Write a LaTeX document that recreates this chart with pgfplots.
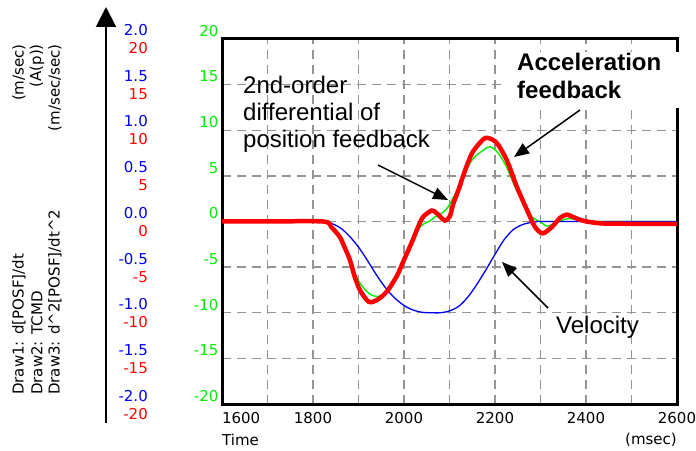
\documentclass[border=0pt]{standalone}
\usepackage{pgfplots}
\pgfplotsset{compat=1.18}
\usepackage{fontspec}
\setmainfont{Liberation Sans}
\newfontfamily\djfont{DejaVu Sans}
\usetikzlibrary{arrows.meta}
\newcommand\tk{\djfont\fontsize{15}{18}\selectfont}
\definecolor{vgreen}{RGB}{0,240,0}
\definecolor{vblue}{RGB}{0,0,240}
\definecolor{vred}{RGB}{255,0,0}

\begin{document}
\begin{tikzpicture}[x=1pt,y=1pt]
\useasboundingbox (0,0) rectangle (696,450);

\begin{axis}[
    at={(222pt,46pt)}, anchor=south west,
    scale only axis, width=455pt, height=365pt,
    xmin=1600, xmax=2600, ymin=-20, ymax=20,
    xtick={1600,1700,...,2600},
    xticklabels={\rlap{1600},,1800,,2000,,2200,,2400,,2600},
    ytick={-20,-15,...,20},
    yticklabels={-20,-15,-10,-5,0,5,10,15,20},
    tick style={draw=none},
    xticklabel style={font=\tk, black, yshift=-5pt},
    yticklabel style={font=\tk, vgreen, yshift=8pt},
    grid=major,
    major grid style={dash pattern=on 9pt off 6pt, line width=1.4pt, black!42},
    axis line style={line width=3pt},
    /pgf/number format/assume math mode=true,
]
% Draw3: measured 2nd-order differential (green)
\addplot[vgreen, line width=1.4pt, smooth, tension=0.5] coordinates {
(1600,0) (1700,0.1) (1800,0) (1822,0) (1835,-0.4) (1853,-1.3) (1868,-2.8) (1881,-4.4)
(1899,-6.4) (1915,-7.5) (1930,-8.1) (1945,-8.2) (1957,-7.8) (1969,-7.2) (1980,-6.4)
(1991,-5.3) (2000,-4.3) (2013,-2.8) (2022,-1.8) (2031,-0.9) (2042,-0.3) (2055,0)
(2068,0.5) (2080,0.8) (2094,1.4) (2108,2.6) (2120,3.8) (2130,5.0) (2152,6.9)
(2174,7.8) (2189,8.2) (2207,7.5) (2226,5.9) (2244,3.8) (2262,2.0) (2281,0.5)
(2299,0) (2314,-0.5) (2332,-0.2) (2358,0.3) (2380,0.2) (2400,0) (2500,0) (2600,0)
};
% Draw1: velocity (blue)
\addplot[vblue, line width=1.3pt, smooth, tension=0.5] coordinates {
(1600,0) (1700,0) (1820,0) (1840,-0.2) (1860,-0.7) (1880,-1.6) (1900,-2.8) (1920,-4.3)
(1940,-5.9) (1960,-7.3) (1980,-8.4) (2000,-9.2) (2020,-9.7) (2040,-9.95) (2060,-10)
(2080,-10) (2100,-9.8) (2120,-9.3) (2140,-8.3) (2160,-6.9) (2180,-5.3) (2200,-3.6)
(2220,-2.0) (2240,-0.9) (2260,-0.35) (2280,-0.1) (2300,0) (2400,0) (2500,0) (2600,0)
};
% Draw2: acceleration feedback (red)
\addplot[vred, line width=4.5pt, smooth, tension=0.5] coordinates {
(1600,0) (1700,0) (1822,0) (1840,-0.6) (1859,-1.7) (1870,-2.9) (1881,-4.2) (1892,-6.1)
(1903,-7.5) (1918,-8.6) (1928,-8.85) (1947,-8.4) (1965,-7.5) (1985,-5.9) (2000,-4.2)
(2017,-2.3) (2031,-0.6) (2042,0.5) (2061,1.2) (2072,0.9) (2090,0.1) (2101,0.6)
(2108,1.9) (2120,3.5) (2130,5.0) (2141,6.5) (2152,7.7) (2174,9.0) (2185,9.15)
(2204,8.6) (2226,6.7) (2248,3.8) (2270,1.3) (2288,-0.6) (2305,-1.3) (2325,-0.6)
(2343,0.4) (2358,0.75) (2371,0.5) (2393,0.1) (2431,-0.2) (2500,-0.25) (2600,-0.25)
};
\end{axis}

% white box behind the upper label
\fill[white] (505,342) rectangle (690,398);

% annotations
\node[anchor=north west, inner sep=0, align=left, font=\fontsize{24}{27}\selectfont]
  at (243,374) {2nd-order\\differential of\\position feedback};
\node[anchor=north west, inner sep=0, align=left, font=\bfseries\fontsize{24}{28}\selectfont]
  at (517,397) {Acceleration\\feedback};
\node[anchor=base west, inner sep=0, font=\fontsize{24}{27}\selectfont]
  at (556,116) {Velocity};
\draw[line width=1.5pt, -{Triangle[length=15pt, width=12pt]}] (378,285) -- (448,250);
\draw[line width=1.5pt, -{Triangle[length=15pt, width=12pt]}] (580,340) -- (514,293);
\draw[line width=1.5pt, -{Triangle[length=15pt, width=12pt]}] (548,142) -- (502,188);

% x axis captions
\node[anchor=west, inner sep=0, font=\tk] at (222,10) {Time};
\node[anchor=east, inner sep=0, font=\tk] at (677,10) {(msec)};

% outer scale with arrow
\draw[line width=2pt, -{Triangle[length=20pt, width=20pt]}] (106,27) -- (106,443);
\foreach \v [count=\i from 0] in {2.0,1.5,1.0,0.5,0.0,-0.5,-1.0,-1.5,-2.0}
  \node[anchor=east, inner sep=0, text=vblue, font=\tk] at (148,{420-45.75*\i}) {\v};
\foreach \v [count=\i from 0] in {20,15,10,5,0,-5,-10,-15,-20}
  \node[anchor=east, inner sep=0, text=vred, font=\tk] at (148,{402-45.75*\i}) {\v};

% rotated captions
\node[rotate=90, anchor=east, inner sep=0, font=\tk] at (19,406) {(m/sec)};
\node[rotate=90, anchor=east, inner sep=0, font=\tk] at (37,406) {(A(p))};
\node[rotate=90, anchor=east, inner sep=0, font=\tk] at (55,406) {(m/sec/sec)};
\node[rotate=90, anchor=west, inner sep=0, font=\tk] at (19,55) {Draw1: d[POSF]/dt};
\node[rotate=90, anchor=west, inner sep=0, font=\tk] at (37,55) {Draw2: TCMD};
\node[rotate=90, anchor=west, inner sep=0, font=\tk] at (55,55) {Draw3: d\^{}2[POSF]/dt\^{}2};
\end{tikzpicture}
\end{document}
